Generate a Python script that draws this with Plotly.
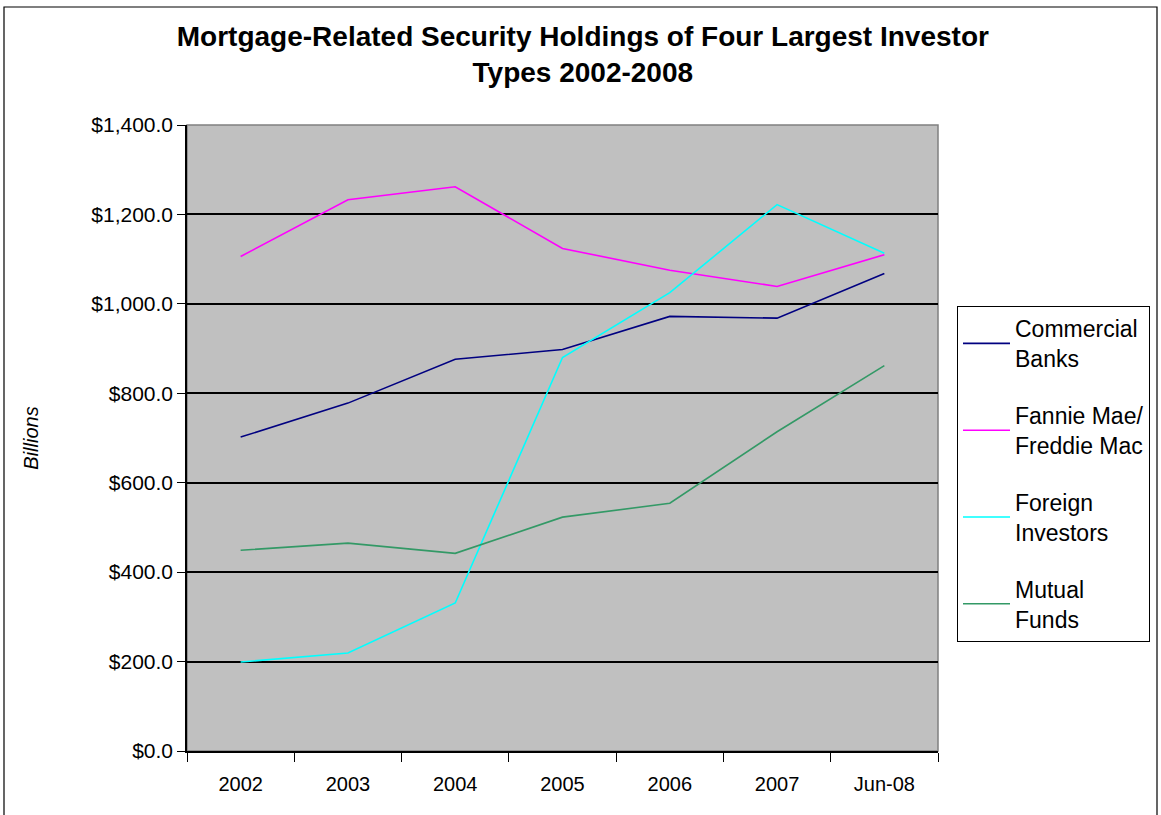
import plotly.graph_objects as go

categories = ["2002", "2003", "2004", "2005", "2006", "2007", "Jun-08"]
commercial_banks = [702, 778, 876, 898, 972, 968, 1068]
fannie_freddie = [1106, 1233, 1262, 1124, 1075, 1039, 1110]
foreign_investors = [199, 219, 331, 880, 1025, 1222, 1113]
mutual_funds = [449, 465, 442, 523, 554, 714, 862]

series_names = ["Commercial<br>Banks", "Fannie Mae/<br>Freddie Mac", "Foreign<br>Investors", "Mutual<br>Funds"]
series_values = [commercial_banks, fannie_freddie, foreign_investors, mutual_funds]
series_colors = ["#000080", "#FF00FF", "#00FFFF", "#339966"]

y_ticks = [0, 200, 400, 600, 800, 1000, 1200, 1400]
y_tick_labels = ["$0.0", "$200.0", "$400.0", "$600.0", "$800.0", "$1,000.0", "$1,200.0", "$1,400.0"]

FONT = "Liberation Sans, Arial, sans-serif"

fig = go.Figure()
for i, (name, vals, col) in enumerate(zip(series_names, series_values, series_colors)):
    fig.add_trace(go.Scatter(
        x=categories, y=vals, mode="lines", name=name,
        line=dict(color=col, width=1.6),
        legendgroup=f"g{i}",
    ))

W, H = 1161, 815
L, R, T, B = 187, 938, 125, 751
pw, ph = R - L, B - T

def px(x):
    return (x - L) / pw

def py(y):
    return (B - y) / ph

fig.update_layout(
    width=W, height=H,
    margin=dict(l=L, r=W - R, t=T, b=H - B, autoexpand=False),
    paper_bgcolor="white",
    plot_bgcolor="#C0C0C0",
    font=dict(family=FONT, color="black", size=20),
    title=dict(
        text="Mortgage-Related Security Holdings of Four Largest Investor<br>Types 2002-2008",
        font=dict(family=FONT, size=28, color="black", weight="bold"),
        x=0.502, xanchor="center", xref="container",
        y=1 - 46 / H, yanchor="middle", yref="container",
    ),
    showlegend=True,
    legend=dict(
        x=px(957), y=py(306), xanchor="left", yanchor="top",
        bordercolor="black", borderwidth=1, bgcolor="white",
        font=dict(family=FONT, size=23, color="black"),
        tracegroupgap=24,
        traceorder="grouped",
        itemwidth=47,
    ),
    xaxis=dict(
        type="category",
        categoryorder="array", categoryarray=categories,
        range=[-0.5, len(categories) - 0.5],
        showgrid=False, zeroline=False,
        showline=True, linecolor="black", linewidth=1.5,
        ticks="outside", tickson="boundaries", ticklen=9, tickcolor="black", tickwidth=1,
        tickfont=dict(family=FONT, size=20, color="black"),
        ticklabelstandoff=14,
        fixedrange=True,
    ),
    yaxis=dict(
        range=[0, 1400],
        tickvals=y_ticks, ticktext=y_tick_labels,
        showgrid=True, gridcolor="black", gridwidth=1.5,
        zeroline=False,
        showline=True, linecolor="black", linewidth=1.5,
        ticks="outside", ticklen=8, tickcolor="black", tickwidth=1,
        tickfont=dict(family=FONT, size=21, color="black"),
        title=dict(text="<i>Billions</i>", font=dict(family=FONT, size=20, color="black"), standoff=47),
        fixedrange=True,
    ),
    shapes=[
        dict(type="rect", xref="paper", yref="paper", x0=0, y0=0, x1=1, y1=1,
             line=dict(color="#808080", width=1.5), layer="below"),
        dict(type="rect", xref="paper", yref="paper",
             x0=px(4), y0=py(818), x1=px(1157), y1=py(7),
             line=dict(color="black", width=1.2), layer="below"),
    ],
)

fig.write_html(
    "out.html",
    config={"displayModeBar": False},
    post_script="document.body.style.margin='0';document.body.style.padding='0';",
)
